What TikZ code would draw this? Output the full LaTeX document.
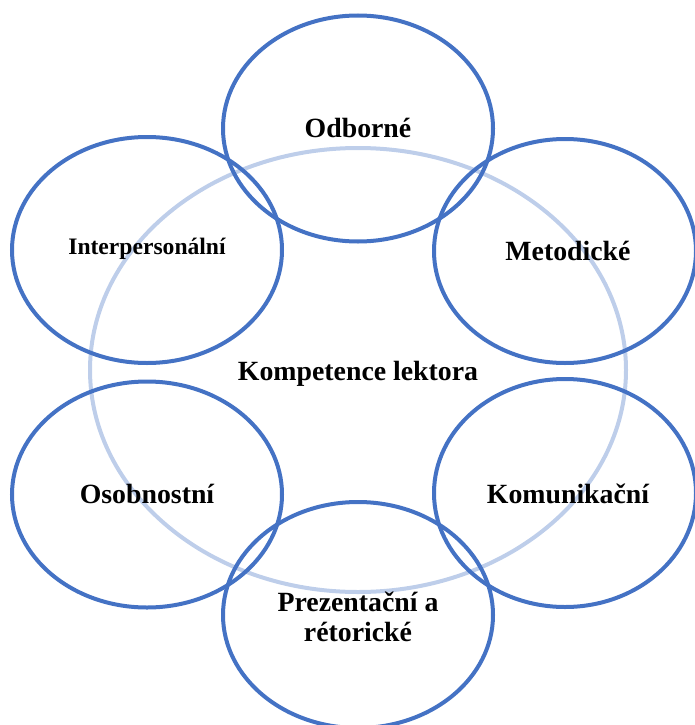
\documentclass[tikz,border=0pt]{standalone}
\usepackage{fontspec}
\setmainfont{Liberation Serif}
\begin{document}
\begin{tikzpicture}[x=1pt,y=-1pt,
  petal/.style={draw=petalblue,line width=4pt},
  big/.style={draw=petalblue,draw opacity=0.35,line width=4pt},
  lab/.style={font=\bfseries\fontsize{27.8}{30}\selectfont,align=center,inner sep=0pt},
  labs/.style={font=\bfseries\fontsize{23.6}{27}\selectfont,align=center,inner sep=0pt}]
\definecolor{petalblue}{HTML}{4472C4}
\useasboundingbox (0,0) rectangle (694,725);
\draw[petal] (358,128.5) ellipse [x radius=135, y radius=113];
\draw[petal] (147,250) ellipse [x radius=135, y radius=113];
\draw[petal] (565,251) ellipse [x radius=131, y radius=112];
\draw[petal] (147,494.5) ellipse [x radius=135, y radius=113];
\draw[petal] (565,493) ellipse [x radius=131, y radius=114];
\draw[petal] (358,615) ellipse [x radius=135, y radius=113];
\draw[big] (358,370) ellipse [x radius=268, y radius=222];
\node[lab] (odb) at (358,128) {Odborné};
\node[lab] (met) at (568,251) {Metodické};
\node[labs] (int) at (147,249) {Interpersonální};
\node[lab] (komp) at (358,374) {Kompetence lektora};
\node[lab] (oso) at (147,494) {Osobnostní};
\node[lab] (kom) at (568,494) {Komunikační};
\node[lab] (pre) at (358,617) {Prezentační a\\rétorické};
\end{tikzpicture}
\end{document}
